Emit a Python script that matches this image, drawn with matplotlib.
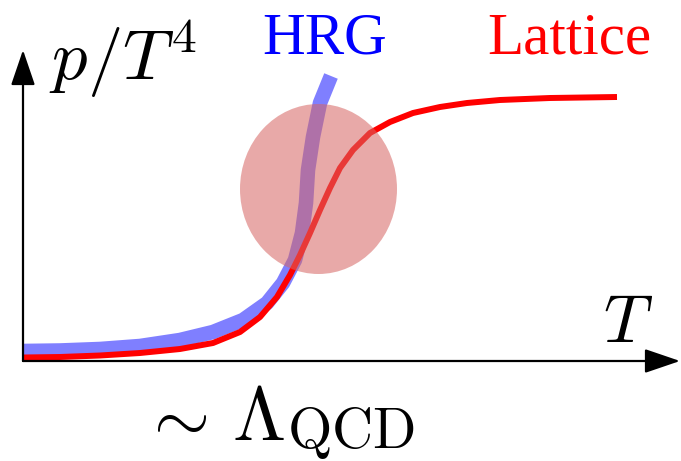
import matplotlib
matplotlib.use("Agg")
import matplotlib.pyplot as plt
from matplotlib.patches import Ellipse, FancyArrowPatch

plt.rcParams['mathtext.fontset'] = 'cm'

# ---- data (schematic units: T and p/T^4) ----
lattice_T = [0, 37, 77, 117, 157, 190, 217, 237, 254, 267, 277, 287, 297, 307,
             317, 330, 347, 367, 390, 417, 444, 477, 527, 594]
lattice_p = [3.5, 4, 5.5, 8, 12, 18, 29, 44, 64, 86, 106, 128, 151, 173,
             193, 211, 228, 239, 248, 254, 258, 261, 263, 264]

hrg_T = [0, 37, 77, 117, 157, 190, 220, 244, 260, 272, 279, 283, 285, 290,
         297, 308]
hrg_p = [10, 10.5, 12, 15, 21, 29, 41, 58, 78, 101, 128, 158, 191, 224,
         258, 285]

crossover_T = 295.5
crossover_p = 172
crossover_w = 157
crossover_h = 170

fig = plt.figure(figsize=(6.81, 4.61), dpi=100)
ax = fig.add_axes([0, 0, 1, 1])
ax.set_xlim(-23, 658)
ax.set_ylim(-100, 361)
ax.axis('off')

# axes arrows
for start, end in [((0, 0), (657, 0)), ((0, 0), (0, 311))]:
    arr = FancyArrowPatch(start, end, arrowstyle='-|>,head_length=22,head_width=7.5',
                          mutation_scale=1, color='black', lw=1.6,
                          shrinkA=0, shrinkB=0, zorder=5)
    ax.add_patch(arr)

# curves
ax.plot(hrg_T, hrg_p, color=(0, 0, 1), alpha=0.5, lw=10.5,
        solid_capstyle='butt', solid_joinstyle='round', zorder=2)
ax.plot(lattice_T, lattice_p, color=(1, 0, 0), lw=4.3,
        solid_capstyle='butt', solid_joinstyle='round', zorder=3)

# crossover region
ax.add_patch(Ellipse((crossover_T, crossover_p), crossover_w, crossover_h,
                     facecolor=(214/255, 103/255, 100/255), alpha=0.56,
                     edgecolor='none', zorder=4))

# labels
ax.text(26, 281, r'$p/T^4$', fontsize=51, ha='left', va='baseline', zorder=6)
ax.text(580, 19, r'$T$', fontsize=49, ha='left', va='baseline', zorder=6)
ax.text(118, -79, r'$\sim$', fontsize=52, ha='left', va='baseline', zorder=6)
ax.text(209, -79, r'$\Lambda$', fontsize=55, ha='left', va='baseline', zorder=6)
ax.text(264, -87, r'$\mathrm{QCD}$', fontsize=41, ha='left', va='baseline', zorder=6)
ax.text(239, 308, 'HRG', fontsize=42.5, family='Liberation Serif', color=(0, 0, 1),
        ha='left', va='baseline', zorder=6)
ax.text(464, 308, 'Lattice', fontsize=42.5, family='Liberation Serif', color=(1, 0, 0),
        ha='left', va='baseline', zorder=6)

fig.savefig('out.png', dpi=100)
